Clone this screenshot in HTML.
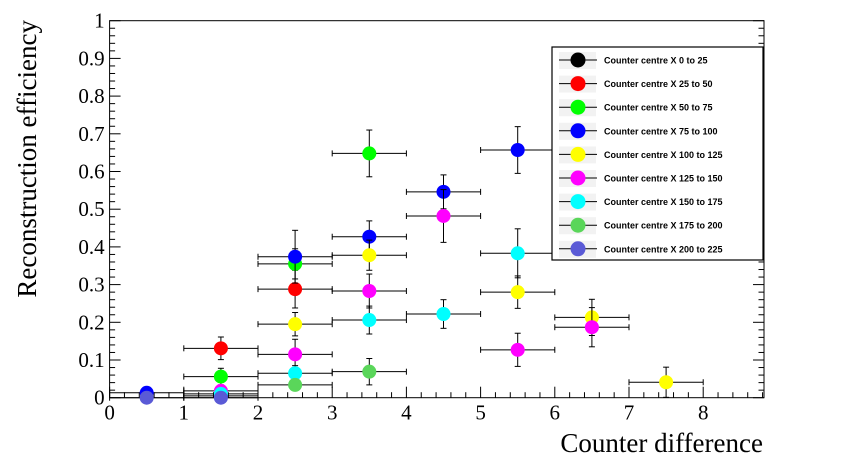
<!DOCTYPE html>
<html><head><meta charset="utf-8"><style>
body{margin:0;background:#fff;}
svg{display:block;font-family:"Liberation Serif",serif;}
</style></head><body>
<svg id="chart" width="848" height="474"></svg>
<script>
const xTicks=[0,1,2,3,4,5,6,7,8];
const yTicks=[0,0.1,0.2,0.3,0.4,0.5,0.6,0.7,0.8,0.9,1];
const seriesNames=["Counter centre X 0 to 25","Counter centre X 25 to 50","Counter centre X 50 to 75","Counter centre X 75 to 100","Counter centre X 100 to 125","Counter centre X 125 to 150","Counter centre X 150 to 175","Counter centre X 175 to 200","Counter centre X 200 to 225"];
const seriesColors=["#000000","#ff0000","#00ff00","#0000ff","#ffff00","#ff00ff","#00ffff","#5ad65a","#5a5ad6"];
const xBlack=[];const yBlack=[];const eBlack=[];
const xRed=[1.5,2.5];const yRed=[0.131,0.288];const eRed=[0.03,0.05];
const xGreen=[1.5,2.5,3.5];const yGreen=[0.056,0.355,0.648];const eGreen=[0.022,0.04,0.062];
const xBlue=[0.5,1.5,2.5,3.5,4.5,5.5];const yBlue=[0.013,0.005,0.374,0.427,0.546,0.657];const eBlue=[0.013,0.005,0.07,0.042,0.045,0.062];
const xYellow=[2.5,3.5,5.5,6.5,7.5];const yYellow=[0.195,0.378,0.28,0.213,0.041];const eYellow=[0.031,0.04,0.043,0.048,0.04];
const xMagenta=[1.5,2.5,3.5,4.5,5.5,6.5];const yMagenta=[0.018,0.115,0.283,0.482,0.127,0.187];const eMagenta=[0.01,0.04,0.045,0.07,0.044,0.052];
const xCyan=[1.5,2.5,3.5,4.5,5.5];const yCyan=[0.01,0.065,0.206,0.222,0.383];const eCyan=[0.008,0.02,0.037,0.038,0.065];
const xLGreen=[2.5,3.5];const yLGreen=[0.034,0.069];const eLGreen=[0.01,0.035];
const xPurple=[0.5,1.5];const yPurple=[0.0,0.0];const ePurple=[0.003,0.003];
const allX=[xBlack,xRed,xGreen,xBlue,xYellow,xMagenta,xCyan,xLGreen,xPurple];
const allY=[yBlack,yRed,yGreen,yBlue,yYellow,yMagenta,yCyan,yLGreen,yPurple];
const allE=[eBlack,eRed,eGreen,eBlue,eYellow,eMagenta,eCyan,eLGreen,ePurple];

const NS="http://www.w3.org/2000/svg";
const svg=document.getElementById('chart');
const L=109.6,R=764,T=20.7,B=397.7,XMAX=(R-L)/74.2;
const sx=v=>L+v*74.2, sy=v=>B-v*(B-T);
function el(t,a,p){const e=document.createElementNS(NS,t);for(const k in a)e.setAttribute(k,a[k]);(p||svg).appendChild(e);return e;}

const frame=el('rect',{x:L,y:T,width:R-L,height:B-T,fill:'none',stroke:'#000','stroke-width':1});



const xg=el('g',{});


for(let v=0;v<=XMAX+1e-9;v+=0.2){const r=Math.round(v*5)%5===0;const x=sx(v);el('line',{x1:x,x2:x,y1:B,y2:B-(r?11:5.5),stroke:'#000'},xg);}
xTicks.forEach(v=>{const t=el('text',{x:sx(v),y:B+22,'font-size':21,'text-anchor':'middle'},xg);t.textContent=v;

});
const yg=el('g',{});


for(let i=0;i<=50;i++){const v=i/50;const r=i%5===0;const y=sy(v);el('line',{x1:L,x2:L+(r?11:5.5),y1:y,y2:y,stroke:'#000'},yg);el('line',{x1:R,x2:R-(r?11:5.5),y1:y,y2:y,stroke:'#000'},yg);}
yTicks.forEach(v=>{const t=el('text',{x:L-5,y:sy(v)+7,'font-size':21,'text-anchor':'end'},yg);t.textContent=String(v);

});
const xt=el('text',{x:763,y:452,'font-size':27,'text-anchor':'end'});xt.textContent='Counter difference';


const yt=el('text',{x:0,y:0,'font-size':27,'text-anchor':'end',transform:'translate(36,20) rotate(-90)'});yt.textContent='Reconstruction efficiency';



allX.forEach((xs,s)=>{
 const g=el('g',{});
 
 
 xs.forEach((xv,i)=>{
  const cx=sx(xv),cy=sy(allY[s][i]),e=allE[s][i];
  el('line',{x1:sx(xv-0.5),x2:sx(xv+0.5),y1:cy,y2:cy,stroke:'#000'},g);
  el('line',{x1:sx(xv-0.5),x2:sx(xv-0.5),y1:cy-3,y2:cy+3,stroke:'#000'},g);
  el('line',{x1:sx(xv+0.5),x2:sx(xv+0.5),y1:cy-3,y2:cy+3,stroke:'#000'},g);
  const yt=sy(allY[s][i]+e),yb=sy(Math.max(0,allY[s][i]-e));
  el('line',{x1:cx,x2:cx,y1:yt,y2:yb,stroke:'#000'},g);
  el('line',{x1:cx-3,x2:cx+3,y1:yt,y2:yt,stroke:'#000'},g);
  el('line',{x1:cx-3,x2:cx+3,y1:yb,y2:yb,stroke:'#000'},g);
  const c=el('circle',{cx:cx,cy:cy,r:7,fill:seriesColors[s]},g);
  
  
 });
});

const lg=el('g',{});


el('rect',{x:552,y:47,width:211,height:213,fill:'#fff',stroke:'#000','stroke-width':1.2},lg);
seriesNames.forEach((n,i)=>{
 const y=60+i*23.6;
 const g=el('g',{},lg);
 
 
 el('rect',{x:559,y:y-8,width:37,height:17,fill:'#f2f2f2'},g);
 el('line',{x1:559,x2:597,y1:y,y2:y,stroke:'#000'},g);
 el('circle',{cx:578,cy:y,r:7.5,fill:seriesColors[i]},g);
 const t=el('text',{x:604,y:y+3.5,'font-size':9,'font-weight':'bold','font-family':'Liberation Sans, sans-serif'},g);t.textContent=n;
});
</script>
</body></html>
